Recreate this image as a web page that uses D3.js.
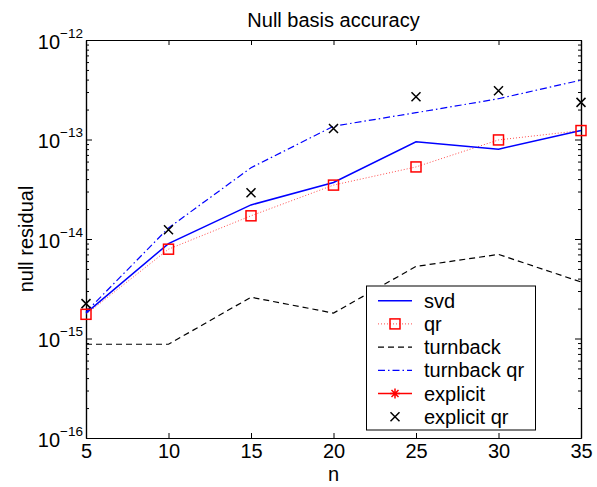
<!DOCTYPE html>
<html><head><meta charset="utf-8">
<script src="https://cdn.jsdelivr.net/npm/d3@7"></script>
<style>
body{margin:0;background:#fff;}
text{font-family:"Liberation Sans",Arial,Helvetica,sans-serif;}
</style></head>
<body><svg id="c" width="597" height="487"></svg>
<script>
const nValues = [5, 10, 15, 20, 25, 30, 35];
const svd        = [1.8e-15, 9.0e-15, 2.2e-14, 3.7e-14, 9.5e-14, 8.0e-14, 1.23e-13];
const qr         = [1.75e-15, 7.9e-15, 1.71e-14, 3.48e-14, 5.3e-14, 9.9e-14, 1.23e-13];
const turnback   = [8.75e-16, 8.75e-16, 2.6e-15, 1.8e-15, 5.3e-15, 7.0e-15, 3.7e-15];
const turnbackQr = [1.85e-15, 1.29e-14, 5.2e-14, 1.36e-13, 1.86e-13, 2.57e-13, 3.95e-13];
const explicit   = [];
const explicitQr = [2.24e-15, 1.24e-14, 2.91e-14, 1.29e-13, 2.69e-13, 3.09e-13, 2.36e-13];
const xTicks = [5, 10, 15, 20, 25, 30, 35];
const yTickExps = [-16, -15, -14, -13, -12];
const legendLabels = ["svd", "qr", "turnback", "turnback qr", "explicit", "explicit qr"];

const svg = d3.select("#c");
const L = 86, R = 581, T = 40, B = 438;
const x = d3.scaleLinear().domain([5, 35]).range([L, R]);
const y = d3.scaleLog().domain([1e-16, 1e-12]).range([B, T]);

// title
svg.append("text").attr("x", (L + R) / 2).attr("y", 27).attr("text-anchor", "middle")
  .attr("font-size", 20).text("Null basis accuracy");

// minor ticks for log axis
const minor = [];
for (let e = -16; e < -12; e++) for (let m = 2; m <= 9; m++) minor.push(m * Math.pow(10, e));

// axes
const gx = svg.append("g").attr("transform", `translate(0,${B})`)
  .call(d3.axisBottom(x).tickValues(xTicks).tickSizeInner(-5).tickSizeOuter(0).tickPadding(6).tickFormat(d3.format("d")));
gx.selectAll("text").attr("font-size", 20).attr("fill", "#000");
svg.append("g").attr("transform", `translate(0,${T})`)
  .call(d3.axisTop(x).tickValues(xTicks).tickSizeInner(-5).tickSizeOuter(0).tickFormat(""));

svg.append("g").attr("transform", `translate(${L},0)`)
  .call(d3.axisLeft(y).tickValues(yTickExps.map(e => Math.pow(10, e))).tickSizeInner(-6).tickSizeOuter(0).tickFormat(""));
svg.append("g").attr("transform", `translate(${L},0)`)
  .call(d3.axisLeft(y).tickValues(minor).tickSizeInner(-3).tickSizeOuter(0).tickFormat(""));
svg.append("g").attr("transform", `translate(${R},0)`)
  .call(d3.axisRight(y).tickValues(yTickExps.map(e => Math.pow(10, e))).tickSizeInner(-6).tickSizeOuter(0).tickFormat(""));
svg.append("g").attr("transform", `translate(${R},0)`)
  .call(d3.axisRight(y).tickValues(minor).tickSizeInner(-3).tickSizeOuter(0).tickFormat(""));
svg.selectAll(".domain").attr("stroke", "#000").attr("stroke-width", 1.2);
svg.selectAll(".tick line").attr("stroke", "#000");

// y tick labels 10^e
yTickExps.forEach(e => {
  const t = svg.append("text").attr("x", 83).attr("y", y(Math.pow(10, e)) + 8.5)
    .attr("text-anchor", "end").attr("font-size", 20);
  t.append("tspan").text("10");
  t.append("tspan").attr("font-size", 13.5).attr("dy", -11).text("\u2212" + Math.abs(e));
});

// axis labels
svg.append("text").attr("x", (L + R) / 2).attr("y", 480.5).attr("text-anchor", "middle")
  .attr("font-size", 20).text("n");
svg.append("text").attr("transform", `translate(33,${(T + B) / 2}) rotate(-90)`)
  .attr("text-anchor", "middle").attr("font-size", 20).text("null residual");

const plot = svg.append("g");
const line = d3.line().x((d, i) => x(nValues[i])).y(d => y(d));

const styles = {
  svd:        {stroke: "#0000ff", width: 1.5, dash: null},
  qr:         {stroke: "#ff0000", width: 1, dash: "1,2", opacity: 0.7},
  turnback:   {stroke: "#000", width: 1.2, dash: "6,4"},
  turnbackQr: {stroke: "#0000ff", width: 1.2, dash: "7,3,1.5,3"},
  explicit:   {stroke: "#ff0000", width: 1.5, dash: null}
};
function drawLine(data, s) {
  if (!data.length) return;
  plot.append("path").datum(data).attr("d", line).attr("fill", "none")
    .attr("stroke", s.stroke).attr("stroke-width", s.width)
    .attr("stroke-dasharray", s.dash).attr("stroke-opacity", s.opacity || 1);
}
drawLine(turnback, styles.turnback);
drawLine(turnbackQr, styles.turnbackQr);
drawLine(qr, styles.qr);
drawLine(svd, styles.svd);
drawLine(explicit, styles.explicit);

function square(g, cx, cy) {
  g.append("rect").attr("x", cx - 5).attr("y", cy - 5).attr("width", 10).attr("height", 10)
    .attr("fill", "none").attr("stroke", "#ff0000").attr("stroke-width", 1.5);
}
function cross(g, cx, cy) {
  const s = 4.5;
  g.append("path").attr("d", `M${cx - s},${cy - s}L${cx + s},${cy + s}M${cx - s},${cy + s}L${cx + s},${cy - s}`)
    .attr("stroke", "#000").attr("stroke-width", 1.5).attr("fill", "none");
}
function star(g, cx, cy) {
  const s = 5;
  g.append("path").attr("d", `M${cx - s},${cy}L${cx + s},${cy}M${cx},${cy - s}L${cx},${cy + s}M${cx - s * 0.7},${cy - s * 0.7}L${cx + s * 0.7},${cy + s * 0.7}M${cx - s * 0.7},${cy + s * 0.7}L${cx + s * 0.7},${cy - s * 0.7}`)
    .attr("stroke", "#ff0000").attr("stroke-width", 1.5).attr("fill", "none");
}
qr.forEach((d, i) => square(plot, x(nValues[i]), y(d)));
explicit.forEach((d, i) => star(plot, x(nValues[i]), y(d)));
explicitQr.forEach((d, i) => cross(plot, x(nValues[i]), y(d)));

// legend
const lg = svg.append("g");
lg.append("rect").attr("x", 366.5).attr("y", 286).attr("width", 169).attr("height", 144)
  .attr("fill", "#fff").attr("stroke", "#000").attr("stroke-width", 1);
const keys = ["svd", "qr", "turnback", "turnbackQr", "explicit", "explicitQr"];
keys.forEach((k, i) => {
  const yy = 300.7 + i * 23.2;
  if (styles[k]) {
    const s = styles[k];
    lg.append("line").attr("x1", 378).attr("x2", 412).attr("y1", yy).attr("y2", yy)
      .attr("stroke", s.stroke).attr("stroke-width", s.width)
      .attr("stroke-dasharray", s.dash).attr("stroke-opacity", s.opacity || 1);
  }
  if (k === "qr") square(lg, 395, yy);
  if (k === "explicit") star(lg, 395, yy);
  if (k === "explicitQr") cross(lg, 395, yy);
  lg.append("text").attr("x", 424).attr("y", yy + 7).attr("font-size", 20).text(legendLabels[i]);
});
</script></body></html>
